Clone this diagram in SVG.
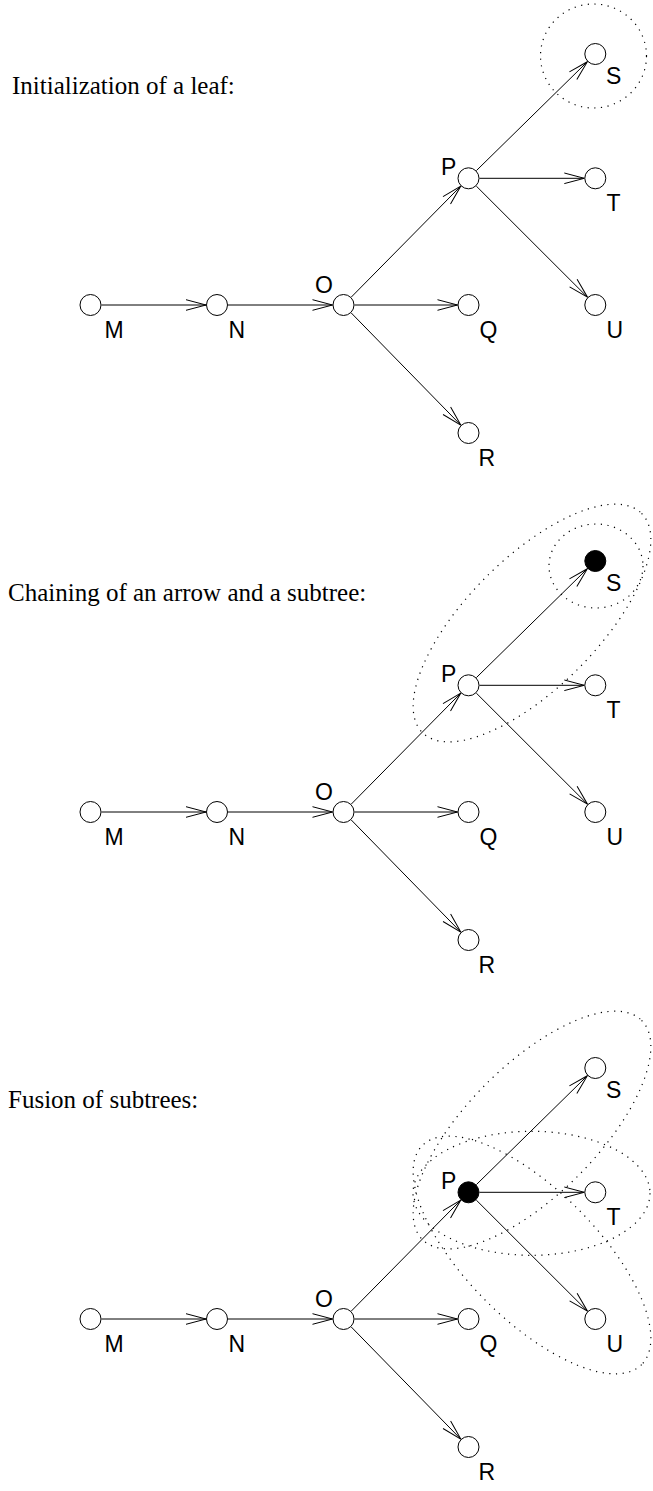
<svg xmlns="http://www.w3.org/2000/svg" width="653" height="1491" viewBox="0 0 653 1491">
<defs>
<marker id="arr" markerUnits="userSpaceOnUse" viewBox="-21 -7 22 14" markerWidth="22" markerHeight="14" refX="0" refY="0" orient="auto">
<path d="M-20,-5.3 L0,0 L-20,5.3" fill="none" stroke="#000" stroke-width="1"/>
</marker>
</defs>
<style>
.node{fill:#fff;stroke:#000;stroke-width:1}
.filled{fill:#000;stroke:#000;stroke-width:1}
.edge{stroke:#000;stroke-width:1;fill:none;marker-end:url(#arr)}
.lbl{font-family:"Liberation Sans",Arial,sans-serif;font-size:23px;fill:#000}
.title{font-family:"Liberation Serif","Times New Roman",serif;font-size:25px;fill:#000}
.grp{fill:none;stroke:#000;stroke-width:1.2;stroke-dasharray:1.2 5.5}
</style>
<rect width="653" height="1491" fill="#fff"/>

<!-- Panel 1 -->
<g id="panel1">
<text class="title" x="12" y="94">Initialization of a leaf:</text>
<g id="p1-groups"><ellipse class="grp" cx="593.5" cy="56" rx="53" ry="52"/></g>
<g id="p1-edges">
<line class="edge" x1="101.5" y1="305" x2="206" y2="305"/>
<line class="edge" x1="228" y1="305" x2="332.5" y2="305"/>
<line class="edge" x1="354.5" y1="305" x2="457.5" y2="305"/>
<line class="edge" x1="351.2" y1="297.2" x2="460.8" y2="186.1"/>
<line class="edge" x1="351.2" y1="312.9" x2="460.8" y2="425.1"/>
<line class="edge" x1="476.4" y1="170.6" x2="587.4" y2="61.7"/>
<line class="edge" x1="479.5" y1="178.3" x2="584.3" y2="178.3"/>
<line class="edge" x1="476.3" y1="186.1" x2="587.5" y2="297.2"/>
</g>
<g id="p1-M"><circle class="node" cx="90.5" cy="305" r="10.5"/><text class="lbl" x="104.5" y="338">M</text></g>
<g id="p1-N"><circle class="node" cx="217" cy="305" r="10.5"/><text class="lbl" x="228.5" y="338">N</text></g>
<g id="p1-O"><circle class="node" cx="343.5" cy="305" r="10.5"/><text class="lbl" x="315" y="293">O</text></g>
<g id="p1-P"><circle class="node" cx="468.5" cy="178.3" r="10.5"/><text class="lbl" x="441" y="175">P</text></g>
<g id="p1-Q"><circle class="node" cx="468.5" cy="305" r="10.5"/><text class="lbl" x="479.5" y="338">Q</text></g>
<g id="p1-R"><circle class="node" cx="468.5" cy="433" r="10.5"/><text class="lbl" x="478.5" y="465.5">R</text></g>
<g id="p1-S"><circle class="node" cx="595.3" cy="54" r="10.5"/><text class="lbl" x="606" y="83.5">S</text></g>
<g id="p1-T"><circle class="node" cx="595.3" cy="178.3" r="10.5"/><text class="lbl" x="606.5" y="210.5">T</text></g>
<g id="p1-U"><circle class="node" cx="595.3" cy="305" r="10.5"/><text class="lbl" x="606.5" y="338">U</text></g>
</g>

<!-- Panel 2 -->
<g id="panel2" transform="translate(0,507)">
<text class="title" x="8" y="94">Chaining of an arrow and a subtree:</text>
<g id="p2-groups">
<ellipse class="grp" cx="596" cy="59" rx="47" ry="42"/>
<ellipse class="grp" cx="0" cy="0" rx="155" ry="65" transform="translate(532,116) rotate(-45)"/>
</g>
<g id="p2-edges">
<line class="edge" x1="101.5" y1="305" x2="206" y2="305"/>
<line class="edge" x1="228" y1="305" x2="332.5" y2="305"/>
<line class="edge" x1="354.5" y1="305" x2="457.5" y2="305"/>
<line class="edge" x1="351.2" y1="297.2" x2="460.8" y2="186.1"/>
<line class="edge" x1="351.2" y1="312.9" x2="460.8" y2="425.1"/>
<line class="edge" x1="476.4" y1="170.6" x2="587.4" y2="61.7"/>
<line class="edge" x1="479.5" y1="178.3" x2="584.3" y2="178.3"/>
<line class="edge" x1="476.3" y1="186.1" x2="587.5" y2="297.2"/>
</g>
<g id="p2-M"><circle class="node" cx="90.5" cy="305" r="10.5"/><text class="lbl" x="104.5" y="338">M</text></g>
<g id="p2-N"><circle class="node" cx="217" cy="305" r="10.5"/><text class="lbl" x="228.5" y="338">N</text></g>
<g id="p2-O"><circle class="node" cx="343.5" cy="305" r="10.5"/><text class="lbl" x="315" y="293">O</text></g>
<g id="p2-P"><circle class="node" cx="468.5" cy="178.3" r="10.5"/><text class="lbl" x="441" y="175">P</text></g>
<g id="p2-Q"><circle class="node" cx="468.5" cy="305" r="10.5"/><text class="lbl" x="479.5" y="338">Q</text></g>
<g id="p2-R"><circle class="node" cx="468.5" cy="433" r="10.5"/><text class="lbl" x="478.5" y="465.5">R</text></g>
<g id="p2-S"><circle class="filled" cx="595.3" cy="54" r="10.5"/><text class="lbl" x="606" y="83.5">S</text></g>
<g id="p2-T"><circle class="node" cx="595.3" cy="178.3" r="10.5"/><text class="lbl" x="606.5" y="210.5">T</text></g>
<g id="p2-U"><circle class="node" cx="595.3" cy="305" r="10.5"/><text class="lbl" x="606.5" y="338">U</text></g>
</g>

<!-- Panel 3 -->
<g id="panel3" transform="translate(0,1014)">
<text class="title" x="8" y="94">Fusion of subtrees:</text>
<g id="p3-groups">
<ellipse class="grp" cx="0" cy="0" rx="155" ry="65" transform="translate(532,116) rotate(-45)"/>
<ellipse class="grp" cx="531.5" cy="179.3" rx="118.5" ry="62"/>
<ellipse class="grp" cx="0" cy="0" rx="155" ry="65" transform="translate(532,241) rotate(45)"/>
</g>
<g id="p3-edges">
<line class="edge" x1="101.5" y1="305" x2="206" y2="305"/>
<line class="edge" x1="228" y1="305" x2="332.5" y2="305"/>
<line class="edge" x1="354.5" y1="305" x2="457.5" y2="305"/>
<line class="edge" x1="351.2" y1="297.2" x2="460.8" y2="186.1"/>
<line class="edge" x1="351.2" y1="312.9" x2="460.8" y2="425.1"/>
<line class="edge" x1="476.4" y1="170.6" x2="587.4" y2="61.7"/>
<line class="edge" x1="479.5" y1="178.3" x2="584.3" y2="178.3"/>
<line class="edge" x1="476.3" y1="186.1" x2="587.5" y2="297.2"/>
</g>
<g id="p3-M"><circle class="node" cx="90.5" cy="305" r="10.5"/><text class="lbl" x="104.5" y="338">M</text></g>
<g id="p3-N"><circle class="node" cx="217" cy="305" r="10.5"/><text class="lbl" x="228.5" y="338">N</text></g>
<g id="p3-O"><circle class="node" cx="343.5" cy="305" r="10.5"/><text class="lbl" x="315" y="293">O</text></g>
<g id="p3-P"><circle class="filled" cx="468.5" cy="178.3" r="10.5"/><text class="lbl" x="441" y="175">P</text></g>
<g id="p3-Q"><circle class="node" cx="468.5" cy="305" r="10.5"/><text class="lbl" x="479.5" y="338">Q</text></g>
<g id="p3-R"><circle class="node" cx="468.5" cy="433" r="10.5"/><text class="lbl" x="478.5" y="465.5">R</text></g>
<g id="p3-S"><circle class="node" cx="595.3" cy="54" r="10.5"/><text class="lbl" x="606" y="83.5">S</text></g>
<g id="p3-T"><circle class="node" cx="595.3" cy="178.3" r="10.5"/><text class="lbl" x="606.5" y="210.5">T</text></g>
<g id="p3-U"><circle class="node" cx="595.3" cy="305" r="10.5"/><text class="lbl" x="606.5" y="338">U</text></g>
</g>
</svg>
